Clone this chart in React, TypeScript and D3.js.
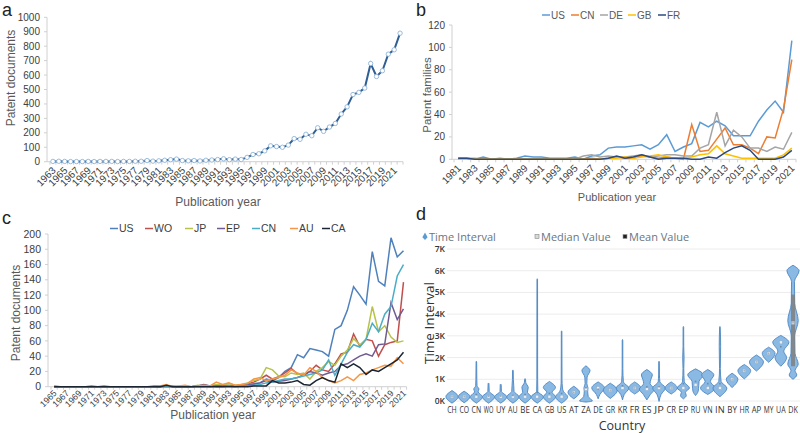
import React from 'react';
import * as d3 from 'd3';

const FONT = '"Liberation Sans", Arial, Helvetica, sans-serif';
const FONT_D = '"Open Sans", "Noto Sans", sans-serif';

// ---------- Panel a ----------
const yearsA = d3.range(1963, 2023);
const docsA = [
  2, 3, 2, 1, 1, 1, 2, 1, 2, 2,
  2, 1, 2, 2, 3, 3, 8, 4, 6, 10,
  14, 18, 8, 6, 8, 5, 10, 12, 15, 20,
  14, 18, 15, 30, 50, 55, 75, 110, 105, 100,
  115, 160, 155, 190, 180, 235, 210, 240, 265, 330,
  380, 465, 480, 510, 680, 590, 630, 745, 775, 890,
];
const ticksA = [0, 100, 200, 300, 400, 500, 600, 700, 800, 900, 1000];

// ---------- Panel b ----------
const yearsB = d3.range(1981, 2022);
const famUS = [1, 1, 0, 2, 0, 1, 0, 1, 3, 2, 2, 1, 1, 1, 2, 0, 3, 4, 10, 11, 11, 12, 13, 9, 13, 22, 7, 11, 14, 33, 29, 34, 30, 21, 21, 21, 34, 44, 52, 42, 106];
const famCN = [0, 0, 0, 0, 0, 0, 0, 0, 0, 0, 0, 0, 0, 0, 0, 0, 1, 0, 1, 2, 1, 1, 3, 2, 1, 2, 1, 0, 31, 7, 8, 18, 28, 13, 13, 10, 5, 20, 19, 45, 89];
const famDE = [1, 1, 1, 0, 0, 0, 0, 0, 0, 0, 1, 0, 0, 0, 0, 3, 4, 2, 3, 2, 2, 3, 4, 2, 3, 4, 4, 3, 3, 10, 13, 42, 12, 26, 20, 10, 10, 7, 11, 9, 24];
const famGB = [0, 0, 0, 0, 0, 0, 0, 0, 0, 0, 0, 0, 0, 0, 0, 0, 0, 0, 1, 1, 2, 1, 2, 3, 4, 2, 1, 1, 2, 4, 5, 12, 5, 3, 1, 1, 1, 1, 1, 4, 10];
const famFR = [1, 1, 0, 0, 0, 0, 0, 0, 0, 0, 0, 0, 0, 0, 0, 0, 0, 0, 1, 3, 1, 2, 4, 2, 0, 1, 1, 1, 0, 0, 2, 1, 6, 10, 12, 8, 0, 0, 0, 2, 8];
const namesB = ['US', 'CN', 'DE', 'GB', 'FR'];
const ticksB = [0, 20, 40, 60, 80, 100, 120];

// ---------- Panel c ----------
const yearsC = d3.range(1965, 2022);
const docUS = [1, 0, 0, 0, 0, 0, 1, 0, 1, 0, 0, 0, 0, 0, 0, 0, 1, 1, 1, 1, 0, 1, 0, 1, 2, 1, 2, 2, 2, 1, 2, 3, 4, 5, 10, 8, 12, 20, 25, 42, 38, 50, 48, 46, 40, 75, 80, 100, 131, 120, 108, 177, 138, 132, 195, 170, 178];
const docWO = [0, 0, 0, 0, 0, 0, 0, 0, 0, 0, 0, 0, 0, 0, 0, 0, 0, 0, 1, 0, 0, 0, 0, 1, 1, 0, 1, 1, 1, 1, 2, 4, 6, 10, 15, 10, 13, 18, 24, 17, 15, 20, 28, 22, 20, 30, 43, 45, 69, 53, 62, 60, 40, 55, 58, 60, 137];
const docJP = [0, 0, 0, 0, 0, 0, 0, 0, 0, 0, 0, 0, 0, 0, 0, 0, 0, 0, 2, 0, 1, 0, 0, 2, 1, 1, 3, 2, 4, 2, 3, 5, 8, 10, 25, 22, 14, 13, 18, 16, 18, 10, 20, 25, 33, 28, 40, 48, 63, 55, 62, 105, 72, 80, 65, 58, 60];
const docEP = [0, 0, 0, 0, 0, 0, 0, 0, 0, 0, 0, 0, 0, 0, 0, 0, 0, 0, 0, 0, 0, 0, 0, 1, 3, 1, 1, 1, 1, 1, 1, 2, 3, 5, 8, 6, 7, 8, 10, 12, 15, 20, 18, 15, 18, 20, 28, 30, 35, 40, 43, 40, 55, 56, 110, 88, 102];
const docCN = [0, 0, 0, 0, 0, 0, 0, 0, 0, 0, 0, 0, 0, 0, 0, 0, 0, 0, 0, 0, 0, 0, 0, 0, 0, 1, 0, 0, 1, 0, 1, 1, 2, 3, 5, 6, 8, 10, 10, 12, 14, 16, 18, 22, 35, 15, 30, 45, 55, 52, 62, 83, 72, 95, 105, 145, 160];
const docAU = [0, 0, 0, 0, 0, 0, 0, 0, 0, 0, 0, 0, 0, 0, 0, 0, 0, 1, 3, 0, 1, 2, 0, 1, 2, 1, 6, 3, 5, 2, 3, 4, 10, 12, 8, 10, 12, 15, 22, 18, 15, 25, 20, 12, 8, 5, 8, 13, 8, 16, 18, 22, 25, 28, 27, 38, 30];
const docCA = [0, 0, 0, 0, 0, 0, 0, 0, 0, 0, 0, 0, 0, 0, 0, 0, 0, 0, 2, 0, 0, 0, 0, 0, 0, 0, 0, 0, 0, 0, 0, 0, 1, 1, 1, 8, 5, 5, 6, 8, 3, 2, 8, 12, 8, 6, 30, 25, 30, 25, 16, 22, 20, 25, 30, 35, 45];
const namesC = ['US', 'WO', 'JP', 'EP', 'CN', 'AU', 'CA'];
const ticksC = [0, 20, 40, 60, 80, 100, 120, 140, 160, 180, 200];

// ---------- Panel d ----------
const countries = ['CH', 'CO', 'CN', 'WO', 'UY', 'AU', 'BE', 'CA', 'GB', 'US', 'AT', 'ZA', 'DE', 'GR', 'KR', 'FR', 'ES', 'JP', 'CR', 'EP', 'RU', 'VN', 'IN', 'BY', 'HR', 'AP', 'MY', 'UA', 'DK'];
const medianK = [0.2, 0.2, 0.2, 0.2, 0.2, 0.2, 0.2, 0.2, 0.2, 0.2, 0.4, 0.55, 0.6, 0.5, 0.6, 0.6, 0.55, 0.6, 0.6, 0.6, 0.75, 0.6, 0.6, 1.0, 1.4, 1.8, 2.2, 2.7, 3.6];
const meanK = [0.2, 0.2, 0.3, 0.22, 0.22, 0.25, 0.3, 0.4, 0.35, 0.35, 0.4, 0.6, 0.55, 0.5, 0.7, 0.6, 0.65, 0.65, 0.6, 0.8, 0.9, 0.8, 0.8, 1.0, 1.4, 1.8, 2.2, 2.5, 3.6];
const profiles: [number, number][][] = [
  [[-0.1, 0], [0.2, 1.05], [0.48, 0]],
  [[-0.08, 0], [0.2, 1], [0.45, 0]],
  [[-0.1, 0], [0.2, 1.05], [0.42, 0.3], [0.55, 0.45], [0.7, 0.12], [1.0, 0.08], [1.8, 0.05], [1.83, 0]],
  [[-0.1, 0], [0.2, 1.05], [0.44, 0.12], [0.8, 0.07], [0.83, 0]],
  [[-0.1, 0], [0.2, 1.05], [0.44, 0.12], [0.75, 0.08], [0.78, 0]],
  [[-0.1, 0], [0.2, 1.05], [0.44, 0.2], [0.7, 0.15], [1.0, 0.08], [1.4, 0.06], [1.43, 0]],
  [[-0.1, 0], [0.2, 1.05], [0.4, 0.4], [0.62, 0.55], [0.85, 0.12], [1.0, 0.07], [1.03, 0]],
  [[-0.1, 0], [0.2, 1.05], [0.44, 0.1], [1.0, 0.07], [5.6, 0.05], [5.63, 0]],
  [[-0.1, 0], [0.2, 1.05], [0.4, 0.45], [0.62, 1.05], [0.9, 0]],
  [[-0.1, 0], [0.2, 1.05], [0.42, 0.35], [0.6, 0.15], [1.0, 0.07], [3.2, 0.05], [3.23, 0]],
  [[0.1, 0], [0.4, 1.0], [0.68, 0]],
  [[-0.05, 0], [0.0, 1.1], [0.2, 0.4], [0.45, 0.3], [0.6, 0.35], [0.8, 0.15], [1.1, 0.2], [1.4, 0.7], [1.62, 0]],
  [[0.1, 0], [0.3, 0.3], [0.6, 1.1], [0.88, 0]],
  [[0.12, 0], [0.5, 1.2], [0.82, 0]],
  [[0.05, 0], [0.3, 0.3], [0.6, 1.1], [0.88, 0.15], [1.5, 0.06], [2.8, 0.05], [2.83, 0]],
  [[0.32, 0], [0.6, 1.05], [0.88, 0]],
  [[0.05, 0], [0.3, 0.6], [0.55, 1.3], [0.8, 0.55], [1.0, 0.7], [1.2, 0.95], [1.45, 0]],
  [[-0.02, 0], [0.3, 0.35], [0.6, 1.1], [0.88, 0.15], [1.2, 0.07], [1.8, 0.05], [1.83, 0]],
  [[0.32, 0], [0.6, 1.05], [0.88, 0]],
  [[0.1, 0], [0.25, 0.5], [0.4, 0.35], [0.6, 1.05], [0.88, 0.15], [1.5, 0.07], [2.0, 0.12], [2.5, 0.06], [3.4, 0.05], [3.43, 0]],
  [[0.25, 0], [0.45, 0.45], [0.7, 0.55], [0.9, 0.6], [1.2, 1.35], [1.48, 0]],
  [[0.3, 0], [0.6, 1.25], [0.9, 0.45], [1.2, 1.05], [1.45, 0]],
  [[0.2, 0], [0.6, 1.2], [0.9, 0.2], [1.5, 0.07], [2.5, 0.12], [3.4, 0.05], [3.43, 0]],
  [[0.62, 0], [1.0, 1.0], [1.28, 0]],
  [[1.02, 0], [1.4, 1.1], [1.68, 0]],
  [[1.38, 0], [1.8, 1.2], [2.12, 0]],
  [[1.78, 0], [2.2, 1.1], [2.48, 0]],
  [[1.6, 0], [2.0, 1.0], [2.3, 0.5], [2.7, 1.4], [3.02, 0]],
  [[1.0, 0], [1.2, 0.65], [1.4, 0.35], [1.7, 0.9], [2.2, 0.35], [3.0, 0.3], [3.7, 0.9], [4.5, 0.3], [5.5, 0.25], [6.0, 1.05], [6.25, 0]],
];
const boxDK = [1.6, 4.9];
const ticksD = [0, 1, 2, 3, 4, 5, 6, 7];

// ---------- styles ----------
const colorsB = ['#5b9bd5', '#ed7d31', '#a5a5a5', '#ffc000', '#2c4a7e'];
const colorsC = ['#4f81bd', '#c0504d', '#b8c24a', '#6f5a93', '#4bacc6', '#f79646', '#1c2633'];
const AXIS = '#d0d0d0';
const TXT = '#404040';

function XBandAxis({ scale, y, fontSize, offset = 7 }: any) {
  const dom: number[] = scale.domain();
  const bw = scale.bandwidth();
  const [r0, r1] = scale.range();
  return (
    <g>
      <line x1={r0 - 3} x2={r1} y1={y} y2={y} stroke={AXIS} />
      {dom.map((d, i) => (
        <line key={'t' + i} x1={scale(d)} x2={scale(d)} y1={y} y2={y + 3} stroke={AXIS} />
      ))}
      <line x1={r1} x2={r1} y1={y} y2={y + 3} stroke={AXIS} />
      {dom.map((d, i) =>
        i % 2 === 0 ? (
          <text
            key={'l' + i}
            transform={`translate(${scale(d) + bw / 2 + 1},${y + offset}) rotate(-45)`}
            textAnchor="end"
            dy="0.35em"
            fontSize={fontSize}
            fill={TXT}
          >
            {d}
          </text>
        ) : null
      )}
    </g>
  );
}

function YAxis({ scale, x, ticks, fontSize }: any) {
  const [r0, r1] = scale.range();
  return (
    <g>
      <line x1={x} x2={x} y1={r0} y2={r1} stroke={AXIS} />
      {ticks.map((t: number) => (
        <g key={t}>
          <line x1={x - 3} x2={x} y1={scale(t)} y2={scale(t)} stroke={AXIS} />
          <text x={x - 7} y={scale(t)} dy="0.35em" textAnchor="end" fontSize={fontSize} fill={TXT}>
            {t}
          </text>
        </g>
      ))}
    </g>
  );
}

export default function App() {
  // panel a
  const xA = d3.scaleBand<number>().domain(yearsA).range([50, 403]);
  const yA = d3.scaleLinear().domain([0, 1000]).range([161.7, 17.3]);
  const cA = (yr: number) => (xA(yr) as number) + xA.bandwidth() / 2;
  const lineA = d3.line<number>().x((_, i) => cA(yearsA[i])).y((d) => yA(d));

  // panel b
  const xB = d3.scaleBand<number>().domain(yearsB).range([454, 796]);
  const yB = d3.scaleLinear().domain([0, 120]).range([159.3, 25]);
  const cB = (yr: number) => (xB(yr) as number) + xB.bandwidth() / 2;
  const lineB = d3.line<number>().x((_, i) => cB(yearsB[i])).y((d) => yB(d));
  const seriesB = [famUS, famCN, famDE, famGB, famFR];

  // panel c
  const xC = d3.scaleBand<number>().domain(yearsC).range([51, 406.6]);
  const yC = d3.scaleLinear().domain([0, 200]).range([386.7, 234]);
  const cC = (yr: number) => (xC(yr) as number) + xC.bandwidth() / 2;
  const lineC = d3.line<number>().x((_, i) => cC(yearsC[i])).y((d) => yC(d));
  const seriesC = [docUS, docWO, docJP, docEP, docCN, docAU, docCA];

  // panel d
  const xD = d3.scalePoint<string>().domain(countries).range([452, 793]);
  const yD = d3.scaleLinear().domain([0, 7]).range([401, 249]);
  const wD = d3.scaleLinear().domain([0, 1]).range([0, 5.8]);

  const legendBX = [542, 571, 600, 628, 658];
  const legendCX = [110, 145, 185, 217, 252, 290, 322];

  return (
    <svg
      width={800}
      height={433}
      style={{ position: 'absolute', left: 0, top: 0, background: '#fff' }}
      fontFamily={FONT}
    >
      <rect x={0} y={0} width={800} height={433} fill="#fff" />

      {/* ===== Panel a ===== */}
      <text x={2} y={16} fontSize={18} fill="#222">a</text>
      <YAxis scale={yA} x={47} ticks={ticksA} fontSize={10} />
      <XBandAxis scale={xA} y={161.7} fontSize={10} />
      <path d={lineA(docsA) || ''} fill="none" stroke="#2f5f93" strokeWidth={2} />
      {docsA.map((v, i) => (
        <circle key={i} cx={cA(yearsA[i])} cy={yA(v)} r={2.2} fill="#fff" stroke="#8fb4d9" strokeWidth={0.9} />
      ))}
      <text transform="translate(15,78) rotate(-90)" textAnchor="middle" fontSize={12} fill="#595959">
        Patent documents
      </text>
      <text x={218} y={206} textAnchor="middle" fontSize={12} fill="#595959">
        Publication year
      </text>

      {/* ===== Panel b ===== */}
      <text x={416} y={16} fontSize={18} fill="#222">b</text>
      <YAxis scale={yB} x={452} ticks={ticksB} fontSize={10} />
      <XBandAxis scale={xB} y={159.3} fontSize={10} />
      {seriesB.map((s, k) => (
        <path key={k} d={lineB(s) || ''} fill="none" stroke={colorsB[k]} strokeWidth={1.5} />
      ))}
      {namesB.map((n, k) => (
        <g key={n}>
          <line x1={legendBX[k]} x2={legendBX[k] + 8} y1={15} y2={15} stroke={colorsB[k]} strokeWidth={1.5} />
          <text x={legendBX[k] + 9} y={18.5} fontSize={10} fill="#595959">{n}</text>
        </g>
      ))}
      <text transform="translate(431,95) rotate(-90)" textAnchor="middle" fontSize={11.5} fill="#595959">
        Patent families
      </text>
      <text x={617} y={201} textAnchor="middle" fontSize={11} fill="#595959">
        Publication year
      </text>

      {/* ===== Panel c ===== */}
      <text x={2} y={224} fontSize={18} fill="#222">c</text>
      <YAxis scale={yC} x={48} ticks={ticksC} fontSize={10.5} />
      <XBandAxis scale={xC} y={386.7} fontSize={8.8} offset={5} />
      {seriesC.map((s, k) => (
        <path key={k} d={lineC(s) || ''} fill="none" stroke={colorsC[k]} strokeWidth={1.5} />
      ))}
      {namesC.map((n, k) => (
        <g key={n}>
          <line x1={legendCX[k]} x2={legendCX[k] + 8} y1={228.5} y2={228.5} stroke={colorsC[k]} strokeWidth={1.5} />
          <text x={legendCX[k] + 9} y={232.3} fontSize={10.5} fill={TXT}>{n}</text>
        </g>
      ))}
      <text transform="translate(20,313) rotate(-90)" textAnchor="middle" fontSize={12} fill="#595959">
        Patent documents
      </text>
      <text x={213} y={419} textAnchor="middle" fontSize={12} fill="#595959">
        Publication year
      </text>

      {/* ===== Panel d ===== */}
      <g fontFamily={FONT_D}>
        <text x={416} y={220} fontSize={18} fill="#222" fontFamily={FONT}>d</text>
        {/* legend */}
        <path d="M425,232.5 L427.6,237.2 L425,240 L422.4,237.2 Z" fill="#5b9bd5" />
        <text x={429} y={241} fontSize={11} fill="#6b7580">Time Interval</text>
        <rect x={535} y={234.5} width={4} height={4} fill="#d9d9d9" stroke="#888" strokeWidth={0.6} />
        <text x={541} y={241} fontSize={11} fill="#6b7580">Median Value</text>
        <rect x={623} y={234.5} width={4} height={4} fill="#222" stroke="#999" strokeWidth={0.6} />
        <text x={629} y={241} fontSize={11} fill="#6b7580">Mean Value</text>

        {/* grid + y ticks */}
        {ticksD.map((t) => (
          <g key={t}>
            <line x1={447} x2={800} y1={yD(t)} y2={yD(t)} stroke="#ececec" />
            <text x={445} y={yD(t)} dy="0.35em" textAnchor="end" fontSize={8.5} fontWeight={600} fill="#333">
              {t + 'K'}
            </text>
          </g>
        ))}

        {/* violins */}
        {countries.map((c, i) => {
          const cx = xD(c) as number;
          const area = d3
            .area<[number, number]>()
            .y((d) => yD(d[0]))
            .x0((d) => cx - wD(d[1]))
            .x1((d) => cx + wD(d[1]))
            .curve(d3.curveMonotoneY);
          return (
            <g key={c}>
              <path d={area(profiles[i]) || ''} fill="#8ab9e4" stroke="#4c86c2" strokeWidth={0.9} />
              {c === 'DK' ? (
                <rect x={cx - 2} y={yD(boxDK[1])} width={4} height={yD(boxDK[0]) - yD(boxDK[1])} fill="#7f7f7f" opacity={0.85} />
              ) : null}
              <rect x={cx - 1.5} y={yD(medianK[i]) - 1.5} width={3} height={3} fill="#e6eef6" stroke="#8fa8c2" strokeWidth={0.5} />
              <rect x={cx - 0.8} y={yD(meanK[i]) - 0.8} width={1.6} height={1.6} fill="#3a3a3a" opacity={0.35} />
              <text x={cx} y={413} textAnchor="middle" fontSize={8.3} fill="#333" textLength={9.6} lengthAdjust="spacingAndGlyphs">
                {c}
              </text>
            </g>
          );
        })}

        <text transform="translate(434,323) rotate(-90)" textAnchor="middle" fontSize={13.5} fill="#333">
          Time Interval
        </text>
        <text x={622} y={430} textAnchor="middle" fontSize={12.5} fill="#333">Country</text>
      </g>
    </svg>
  );
}
